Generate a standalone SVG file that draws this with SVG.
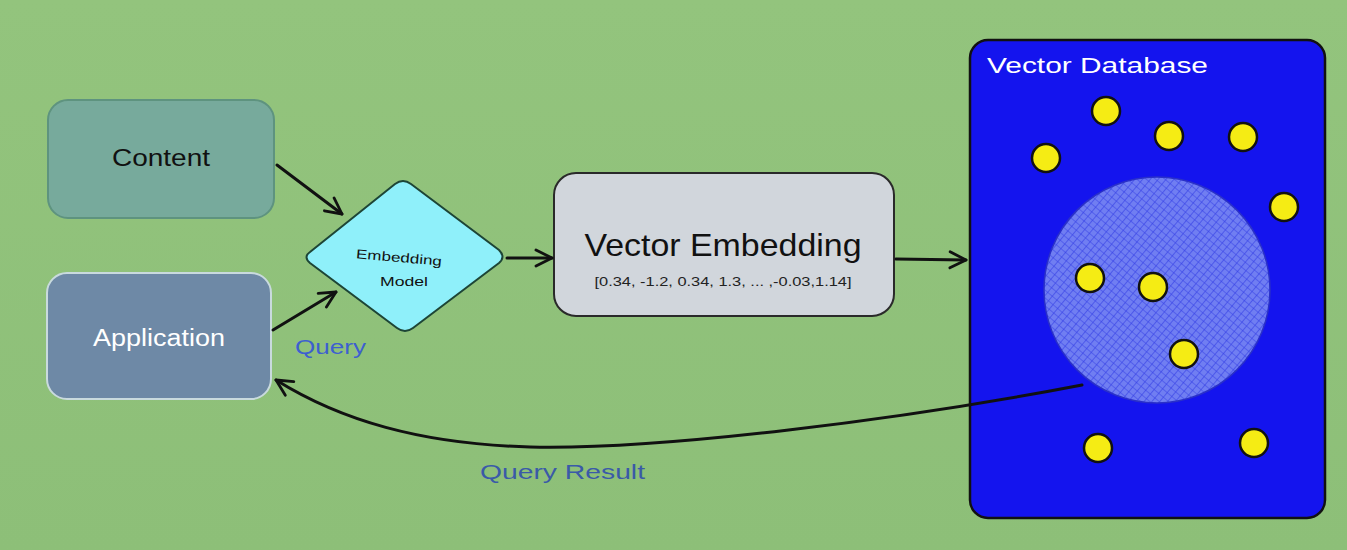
<svg xmlns="http://www.w3.org/2000/svg" width="1347" height="550" viewBox="0 0 1347 550">
<defs>
<style>
.lbl{font-family:"Liberation Sans","DejaVu Sans",sans-serif}
.conn{fill:none;stroke:#111;stroke-width:3;stroke-linecap:round}
.dot{fill:#f5ec14;stroke:#111;stroke-width:2.5}
</style>
<marker id="ah" viewBox="0 0 20 20" refX="18" refY="10" markerWidth="20" markerHeight="20" markerUnits="userSpaceOnUse" orient="auto">
<path d="M2,2 L18,10 L2,18" fill="none" stroke="#111" stroke-width="2.8" stroke-linecap="round" stroke-linejoin="round"/>
</marker>
<pattern id="hatch" width="6" height="6" patternUnits="userSpaceOnUse" patternTransform="rotate(40)">
<rect width="6" height="6" fill="#707ef2"/>
<path d="M0,0 L0,6 M0,0 L6,0" stroke="#3540e6" stroke-width="1.2"/>
</pattern>
<linearGradient id="bg" x1="0" y1="0" x2="0" y2="1">
<stop offset="0" stop-color="#93c47d"/>
<stop offset="1" stop-color="#8dbf78"/>
</linearGradient>
</defs>
<rect width="1347" height="550" fill="url(#bg)"/>

<g id="content">
<rect x="48" y="100" width="226" height="118" rx="20" fill="#77aa9c" stroke="#5e937f" stroke-width="2"/>
<text class="lbl" x="161" y="166" text-anchor="middle" font-size="23" fill="#111" textLength="98" lengthAdjust="spacingAndGlyphs">Content</text>
</g>

<g id="application">
<rect x="47" y="273" width="224" height="126" rx="20" fill="#6e89a6" stroke="#c9dade" stroke-width="2"/>
<text class="lbl" x="159" y="346" text-anchor="middle" font-size="23" fill="#fff" textLength="132" lengthAdjust="spacingAndGlyphs">Application</text>
</g>

<g id="embedding-model">
<path d="M310,252 L395,184 Q403,178 411,184 L499,250 Q506,257 499,263 L413,328 Q405,334 397,328 L310,263 Q303,257 310,252 Z" fill="#8ff0fa" stroke="#1d4536" stroke-width="2"/>
<text class="lbl" x="399" y="262" text-anchor="middle" font-size="13" fill="#111" textLength="86" lengthAdjust="spacingAndGlyphs" transform="rotate(5 399 258)">Embedding</text>
<text class="lbl" x="404" y="286" text-anchor="middle" font-size="13" fill="#111" textLength="48" lengthAdjust="spacingAndGlyphs">Model</text>
</g>

<g id="vector-embedding">
<rect x="554" y="173" width="340" height="143" rx="22" fill="#d1d6dc" stroke="#2a2a2a" stroke-width="2"/>
<text class="lbl" x="723" y="256" text-anchor="middle" font-size="32" fill="#111" textLength="277" lengthAdjust="spacingAndGlyphs">Vector Embedding</text>
<text class="lbl" x="723" y="286" text-anchor="middle" font-size="12.5" fill="#222" textLength="257" lengthAdjust="spacingAndGlyphs">[0.34, -1.2, 0.34, 1.3, ... ,-0.03,1.14]</text>
</g>

<g id="vector-database">
<rect x="970" y="40" width="355" height="478" rx="18" fill="#1414ee" stroke="#111" stroke-width="2.5"/>
<text class="lbl" x="987" y="73" font-size="22" fill="#fff" textLength="221" lengthAdjust="spacingAndGlyphs">Vector Database</text>
<circle cx="1157" cy="290" r="113" fill="url(#hatch)" stroke="#2a30c8" stroke-width="1.5"/>
<circle class="dot" cx="1106" cy="111" r="14"/>
<circle class="dot" cx="1169" cy="136" r="14"/>
<circle class="dot" cx="1243" cy="137" r="14"/>
<circle class="dot" cx="1046" cy="158" r="14"/>
<circle class="dot" cx="1284" cy="207" r="14"/>
<circle class="dot" cx="1090" cy="278" r="14"/>
<circle class="dot" cx="1153" cy="287" r="14"/>
<circle class="dot" cx="1184" cy="354" r="14"/>
<circle class="dot" cx="1098" cy="448" r="14"/>
<circle class="dot" cx="1254" cy="443" r="14"/>
</g>

<g id="connectors">
<path class="conn" d="M277,165 L342,214" marker-end="url(#ah)"/>
<path class="conn" d="M273,330 L336,292" marker-end="url(#ah)"/>
<path class="conn" d="M507,258 L552,258" marker-end="url(#ah)"/>
<path class="conn" d="M896,259 L966,260" marker-end="url(#ah)"/>
<path class="conn" d="M1082,385 C900,420 660,450 530,447 C420,444 340,420 276,380" marker-end="url(#ah)"/>
</g>

<g id="labels">
<text class="lbl" x="295" y="354" font-size="21" fill="#3d5fd0" textLength="71" lengthAdjust="spacingAndGlyphs">Query</text>
<text class="lbl" x="480" y="479" font-size="21" fill="#3a5aa8" textLength="165" lengthAdjust="spacingAndGlyphs">Query Result</text>
</g>
</svg>
